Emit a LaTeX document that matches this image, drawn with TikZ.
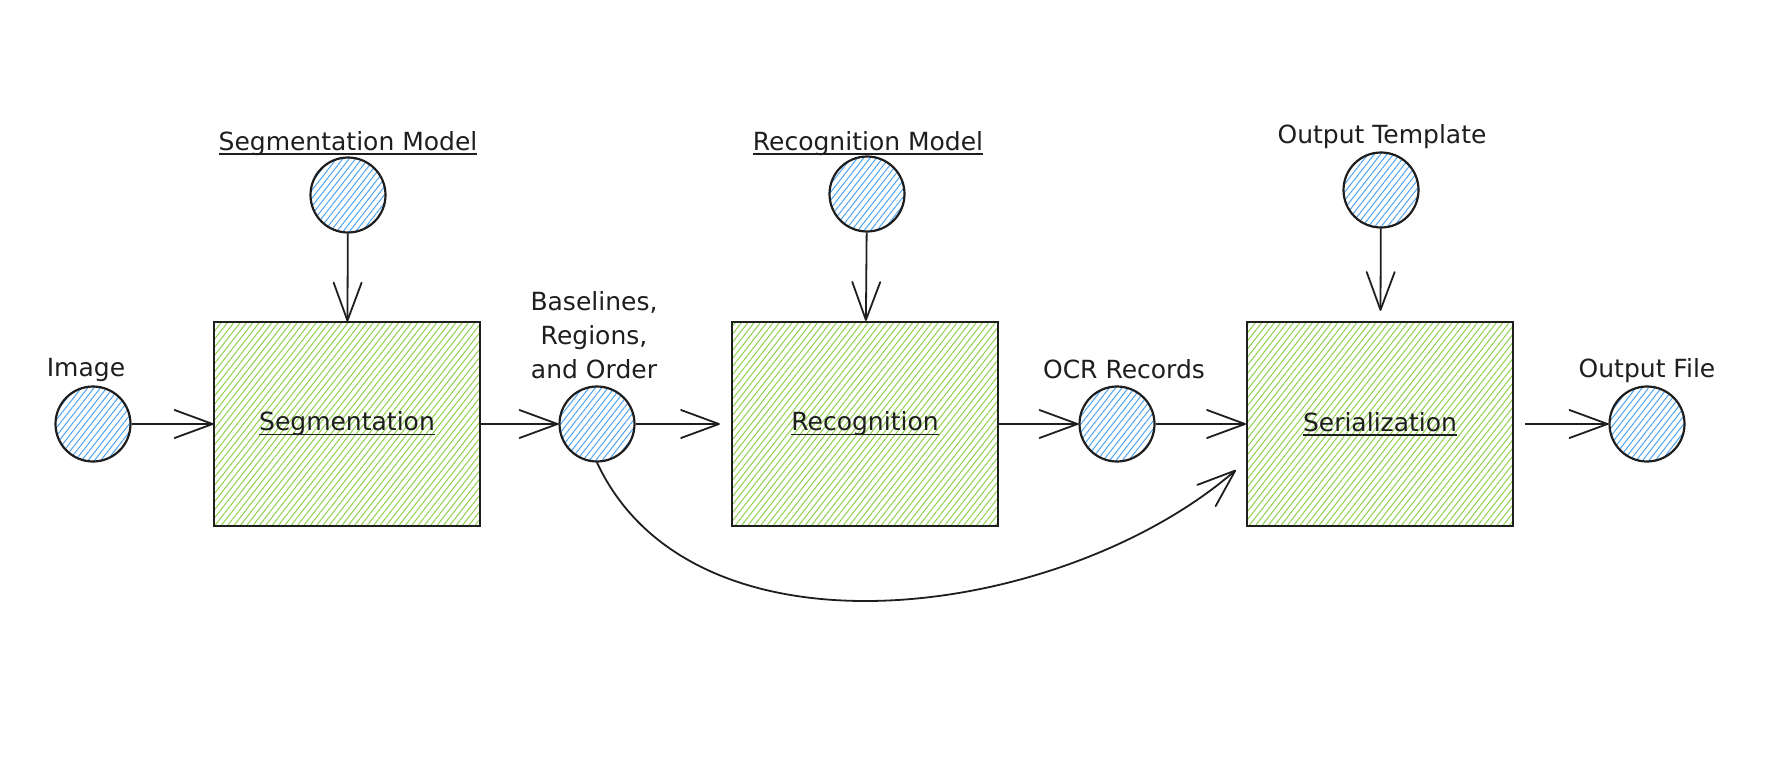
\documentclass[tikz,border=0pt]{standalone}
\usepackage{fontspec}
\setmainfont{DejaVu Sans}
\usetikzlibrary{arrows.meta,patterns.meta}
\definecolor{ink}{HTML}{1E1E1E}
\definecolor{hatchgreen}{HTML}{8FCF4A}
\definecolor{hatchblue}{HTML}{4DA3F0}
\newcommand\myul[1]{\setbox0\hbox{#1}\rlap{\rule[-4.5pt]{\wd0}{1.8pt}}\box0}
\tikzset{
  every node/.style={font=\fontsize{25}{34}\selectfont, text=ink},
  procbox/.style={draw=ink, line width=2.2pt, minimum width=266pt, minimum height=204pt, inner sep=0pt,
    pattern={Lines[angle=52,distance=5pt,line width=1pt]}, pattern color=hatchgreen},
  datacirc/.style={circle, draw=ink, line width=2.2pt, minimum size=75pt, inner sep=0pt,
    pattern={Lines[angle=52,distance=5pt,line width=1pt]}, pattern color=hatchblue},
  lbl/.style={inner sep=0pt, anchor=base},
  flow/.style={draw=ink, line width=1.8pt, -{Straight Barb[length=38pt,width=28pt,round]}},
}
\begin{document}
\begin{tikzpicture}[x=1pt,y=-1pt]
\useasboundingbox (0,0) rectangle (1775,760);
% process boxes
\node[procbox] (seg) at (347,424) {\myul{Segmentation}};
\node[procbox] (rec) at (865,424) {\myul{Recognition}};
\node[procbox] (ser) at (1380,424) {\myul{Serialization}};
% data circles
\node[datacirc] (img) at (93,424) {};
\node[datacirc] (base) at (597,424) {};
\node[datacirc] (ocr) at (1117,424) {};
\node[datacirc] (out) at (1647,424) {};
\node[datacirc] (segm) at (348,195) {};
\node[datacirc] (recm) at (867,194) {};
\node[datacirc] (tmpl) at (1381,190) {};
% labels
\node[lbl] (limg) at (86,376) {Image};
\node[lbl] (lsegm) at (348,150) {\myul{Segmentation Model}};
\node[lbl] (lrecm) at (868,150) {\myul{Recognition Model}};
\node[lbl] (ltmpl) at (1382,143) {Output Template};
\node[lbl] (locr) at (1124,378) {OCR Records};
\node[lbl] (lout) at (1647,377) {Output File};
\node[inner sep=0pt, anchor=south, align=center] (lbase) at (594,379) {Baselines,\\Regions,\\and Order};
% connectors
\draw[flow] (img) -- (seg);
\draw[flow] (segm) -- (seg);
\draw[flow] (seg) -- (base);
\draw[flow, shorten >=11pt] (base) -- (rec);
\draw[flow] (recm) -- (rec);
\draw[flow] (rec) -- (ocr);
\draw[flow] (ocr) -- (ser);
\draw[flow, shorten >=10pt] (tmpl) -- (ser);
\draw[flow, shorten <=11pt] (ser) -- (out);
\coordinate (sertip) at ([xshift=-10pt,yshift=-46pt]ser.west);
\draw[flow] (base.south) .. controls (695,672) and (1065,618) .. (sertip);
\end{tikzpicture}
\end{document}
